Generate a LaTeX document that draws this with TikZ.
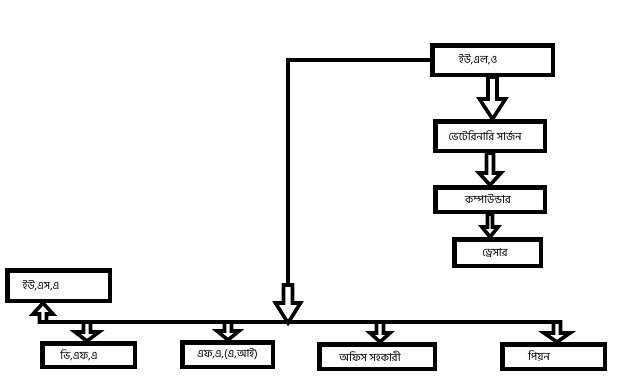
\documentclass[tikz,border=0pt]{standalone}
\usepackage{fontspec}
\usetikzlibrary{calc}
\newfontfamily\bnfont[Script=Bengali]{Hind Siliguri}
\newcommand{\blockarrow}[5]{% start, end, signed head length, shaft half width, head half width
  \path[blk] let \p1=(#1), \p2=(#2) in
    (\x1-#4pt,\y1) -- (\x1-#4pt,\y2+#3pt) -- (\x1-#5pt,\y2+#3pt) -- (\x1,\y2)
    -- (\x1+#5pt,\y2+#3pt) -- (\x1+#4pt,\y2+#3pt) -- (\x1+#4pt,\y1) -- cycle;}
\begin{document}
\begin{tikzpicture}[x=1pt,y=-1pt,
  box/.style={draw, line width=4.5pt, inner sep=0pt, font=\bnfont\fontsize{11}{12}\selectfont},
  pushl/.style={execute at end node={\hspace*{#1}}},
  wire/.style={line width=3.6pt},
  blk/.style={draw, line width=3.6pt, fill=white, line join=miter, miter limit=4}]
\useasboundingbox (0,0) rectangle (623,389);
\fill[white] (0,0) rectangle (623,389);
% boxes
\node[box, minimum width=120.5pt, minimum height=29.5pt, pushl=29pt] (ulo) at (492.5,60) {ইউ,এল,ও};
\node[box, minimum width=109.5pt, minimum height=29.5pt, pushl=10pt] (vet) at (490,136) {ভেটেরিনারি সার্জন};
\node[box, minimum width=109.5pt, minimum height=24.5pt, pushl=4pt] (comp) at (490,199.5) {কম্পাউন্ডার};
\node[box, minimum width=86.5pt, minimum height=26.5pt, pushl=5pt] (dress) at (497.5,252.5) {ড্রেসার};
\node[box, minimum width=102.5pt, minimum height=30.5pt, pushl=35pt] (usa) at (58.5,285.5) {ইউ,এস,এ};
\node[box, minimum width=92.5pt, minimum height=23.5pt, pushl=19pt] (vfa) at (88.5,355) {ভি,এফ,এ};
\node[box, minimum width=90.5pt, minimum height=24.5pt] (fa) at (227.5,354.5) {এফ,এ,(এ,আই)};
\node[box, minimum width=115.5pt, minimum height=24.5pt, pushl=14pt] (off) at (377,356.5) {অফিস সহকারী};
\node[box, minimum width=102.5pt, minimum height=24.5pt, pushl=29pt] (peon) at (553.5,356.5) {পিয়ন};
% bus points
\coordinate (bl) at (43,322);
\coordinate (b1) at (87,322);
\coordinate (b2) at (228,322);
\coordinate (b3) at (380,322);
\coordinate (br) at (557,322);
\coordinate (mt) at (288,285);
\coordinate (mb) at (288,323);
% wires
\draw[wire] (ulo.west) -| (mt);
\draw[wire] (bl) -- (br);
% block arrows
\blockarrow{ulo.south}{vet.north}{20}{4.5}{13}
\blockarrow{vet.south}{comp.north}{12}{3.5}{11}
\blockarrow{comp.south}{dress.north}{10}{2.5}{8}
\blockarrow{mt}{mb}{20}{4.5}{12.5}
\blockarrow{bl}{usa.south}{-11}{3.5}{10}
\blockarrow{b1}{vfa.north}{9}{3.5}{12}
\blockarrow{b2}{fa.north}{9}{3.5}{11}
\blockarrow{b3}{off.north}{9}{3.5}{10}
\blockarrow{br}{peon.north}{9}{3.5}{13}
\end{tikzpicture}
\end{document}
